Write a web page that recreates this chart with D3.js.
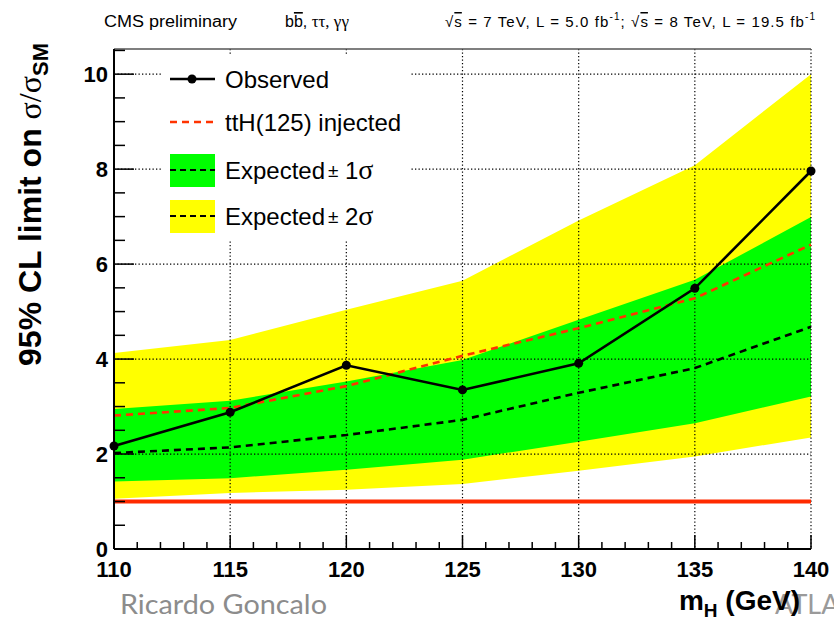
<!DOCTYPE html>
<html>
<head>
<meta charset="utf-8">
<script src="https://cdn.jsdelivr.net/npm/d3@7/dist/d3.min.js"></script>
<style>
  html, body { margin: 0; padding: 0; background: #fff; }
  svg { display: block; }
</style>
</head>
<body>
<svg id="chart" width="834" height="620"></svg>
<script>
// Higgs mass points (GeV)
const mass = [110, 115, 120, 125, 130, 135, 140];
// 95% CL upper limits on sigma/sigma_SM
const observed = [2.17, 2.88, 3.87, 3.35, 3.91, 5.49, 7.96];
const expected = [2.02, 2.14, 2.40, 2.72, 3.29, 3.81, 4.68];
const injected = [2.81, 2.97, 3.43, 4.07, 4.65, 5.28, 6.41];
const band1Lo = [1.42, 1.49, 1.67, 1.88, 2.26, 2.65, 3.21];
const band1Hi = [2.95, 3.12, 3.53, 3.98, 4.83, 5.67, 6.99];
const band2Lo = [1.06, 1.18, 1.25, 1.37, 1.65, 1.95, 2.35];
const band2Hi = [4.13, 4.40, 5.04, 5.65, 6.92, 8.08, 10.0];
const smLine = 1;

const xTicks = [110, 115, 120, 125, 130, 135, 140];
const yTicks = [0, 2, 4, 6, 8, 10];

const svg = d3.select("#chart");
const sans = "'Liberation Sans', Arial, Helvetica, sans-serif";
const serif = "'Liberation Serif', 'Times New Roman', serif";

const x = d3.scaleLinear().domain([110, 140]).range([114, 811]);
const y = d3.scaleLinear().domain([0, 10.53]).range([549, 49]);

const pts = arr => mass.map((m, i) => [m, arr[i]]);
const line = d3.line().x(d => x(d[0])).y(d => y(d[1]));
const band = (lo, hi) => d3.area()
  .x((d, i) => x(mass[i]))
  .y0((d, i) => y(lo[i]))
  .y1((d, i) => y(hi[i]))(mass);

// uncertainty bands
svg.append("path").attr("d", band(band2Lo, band2Hi)).attr("fill", "#ffff00");
svg.append("path").attr("d", band(band1Lo, band1Hi)).attr("fill", "#00ff00");

// dotted grid
const grid = svg.append("g").attr("stroke", "#000").attr("stroke-width", 1.2)
  .attr("stroke-dasharray", "1.3,2.2");
xTicks.filter(v => v > 110).forEach(v => {
  grid.append("line").attr("x1", x(v)).attr("x2", x(v)).attr("y1", y(10.53)).attr("y2", y(0));
});
yTicks.filter(v => v > 0).forEach(v => {
  grid.append("line").attr("x1", x(110)).attr("x2", x(140)).attr("y1", y(v)).attr("y2", y(v));
});

// SM reference line
svg.append("line").attr("x1", x(110)).attr("x2", x(140))
  .attr("y1", y(smLine)).attr("y2", y(smLine))
  .attr("stroke", "#ff2a00").attr("stroke-width", 4.2);

// expected and injected curves
svg.append("path").attr("d", line(pts(expected))).attr("fill", "none")
  .attr("stroke", "#000").attr("stroke-width", 2.6).attr("stroke-dasharray", "7,5");
svg.append("path").attr("d", line(pts(injected))).attr("fill", "none")
  .attr("stroke", "#ff3300").attr("stroke-width", 2.6).attr("stroke-dasharray", "7,5");

// observed
svg.append("path").attr("d", line(pts(observed))).attr("fill", "none")
  .attr("stroke", "#000").attr("stroke-width", 2.6);
svg.append("g").selectAll("circle").data(pts(observed)).join("circle")
  .attr("cx", d => x(d[0])).attr("cy", d => y(d[1])).attr("r", 4.5).attr("fill", "#000");

// frame top
svg.append("line").attr("x1", x(110)).attr("x2", x(140)).attr("y1", y(10.53)).attr("y2", y(10.53))
  .attr("stroke", "#555").attr("stroke-width", 1.5);

// y axis with inward ticks
const yAxisG = svg.append("g").attr("stroke", "#000");
yAxisG.append("line").attr("x1", x(110)).attr("x2", x(110)).attr("y1", y(10.53)).attr("y2", y(0))
  .attr("stroke-width", 2);
d3.range(0, 10.51, 0.5).forEach(v => {
  const major = Math.abs(v / 2 - Math.round(v / 2)) < 1e-6;
  yAxisG.append("line").attr("x1", x(110)).attr("x2", x(110) + (major ? 20 : 11))
    .attr("y1", y(v)).attr("y2", y(v)).attr("stroke-width", 1.5);
});
svg.append("g").selectAll("text").data(yTicks).join("text")
  .attr("x", 108).attr("y", d => y(d)).attr("dy", "0.36em")
  .attr("text-anchor", "end").attr("font-family", sans).attr("font-weight", "bold")
  .attr("font-size", 22).text(d => d);

// x axis with inward ticks
const xAxisG = svg.append("g").attr("stroke", "#000");
xAxisG.append("line").attr("x1", x(110)).attr("x2", x(140)).attr("y1", y(0)).attr("y2", y(0))
  .attr("stroke-width", 2);
d3.range(110, 140.01, 1).forEach(v => {
  const major = v % 5 === 0;
  xAxisG.append("line").attr("x1", x(v)).attr("x2", x(v))
    .attr("y1", y(0)).attr("y2", y(0) - (major ? 14 : 7)).attr("stroke-width", 1.5);
});
svg.append("g").selectAll("text").data(xTicks).join("text")
  .attr("x", d => x(d)).attr("y", 577)
  .attr("text-anchor", "middle").attr("font-family", sans).attr("font-weight", "bold")
  .attr("font-size", 22).text(d => d);

// legend
svg.append("rect").attr("x", 163).attr("y", 56).attr("width", 247).attr("height", 184).attr("fill", "#fff");
const lg = svg.append("g");
const legY = [79, 122, 170, 216];
lg.append("line").attr("x1", 170).attr("x2", 215).attr("y1", legY[0]).attr("y2", legY[0])
  .attr("stroke", "#000").attr("stroke-width", 2.6);
lg.append("circle").attr("cx", 192).attr("cy", legY[0]).attr("r", 4.5).attr("fill", "#000");
lg.append("line").attr("x1", 170).attr("x2", 215).attr("y1", legY[1]).attr("y2", legY[1])
  .attr("stroke", "#ff3300").attr("stroke-width", 2.6).attr("stroke-dasharray", "7,5");
lg.append("rect").attr("x", 170).attr("y", 154).attr("width", 45).attr("height", 33).attr("fill", "#00ff00");
lg.append("line").attr("x1", 170).attr("x2", 215).attr("y1", legY[2]).attr("y2", legY[2])
  .attr("stroke", "#000").attr("stroke-width", 2).attr("stroke-dasharray", "6,4");
lg.append("rect").attr("x", 170).attr("y", 200).attr("width", 45).attr("height", 33).attr("fill", "#ffff00");
lg.append("line").attr("x1", 170).attr("x2", 215).attr("y1", legY[3]).attr("y2", legY[3])
  .attr("stroke", "#000").attr("stroke-width", 2).attr("stroke-dasharray", "6,4");

const legText = (i) => lg.append("text").attr("x", 225).attr("y", legY[i]).attr("dy", "0.36em")
  .attr("font-family", sans).attr("font-size", 24).attr("fill", "#000");
legText(0).text("Observed");
legText(1).text("ttH(125) injected");
[["1", 2], ["2", 3]].forEach(([n, i]) => {
  legText(i).text("Expected");
  lg.append("text").attr("x", 328).attr("y", legY[i]).attr("dy", "0.36em")
    .attr("font-family", sans).attr("font-size", 19).text("±");
  const t = lg.append("text").attr("x", 345).attr("y", legY[i]).attr("dy", "0.36em")
    .attr("font-family", sans).attr("font-size", 24);
  t.append("tspan").text(n);
  t.append("tspan").attr("font-family", serif).attr("font-size", 28).text("σ");
});

// header
svg.append("text").attr("x", 104).attr("y", 27).attr("font-family", sans).attr("font-size", 16)
  .attr("textLength", 133).attr("lengthAdjust", "spacingAndGlyphs").text("CMS preliminary");
{
  const t = svg.append("text").attr("x", 285).attr("y", 27).attr("font-family", sans).attr("font-size", 16);
  t.append("tspan").text("b");
  t.append("tspan").attr("text-decoration", "overline").text("b");
  t.append("tspan").text(", ");
  t.append("tspan").attr("font-family", serif).attr("font-size", 17).text("ττ, γγ");
}
{
  const t = svg.append("text").attr("x", 445).attr("y", 27).attr("font-family", sans).attr("font-size", 15)
    .attr("textLength", 370).attr("lengthAdjust", "spacing");
  t.append("tspan").text("√");
  t.append("tspan").attr("text-decoration", "overline").text("s");
  t.append("tspan").text(" = 7 TeV, L = 5.0 fb");
  t.append("tspan").attr("font-size", 10).attr("dy", -7).text("-1");
  t.append("tspan").attr("dy", 7).text("; √");
  t.append("tspan").attr("text-decoration", "overline").text("s");
  t.append("tspan").text(" = 8 TeV, L = 19.5 fb");
  t.append("tspan").attr("font-size", 10).attr("dy", -7).text("-1");
}

// y-axis title
{
  const t = svg.append("text").attr("transform", "translate(41,43) rotate(-90)")
    .attr("text-anchor", "end").attr("font-family", sans).attr("font-weight", "bold").attr("font-size", 32);
  t.append("tspan").text("95% CL limit on ");
  t.append("tspan").attr("font-family", serif).attr("font-weight", "normal").text("σ/σ");
  t.append("tspan").attr("font-size", 22).attr("dy", 7).text("SM");
}

// footer
svg.append("text").attr("x", 775).attr("y", 614).attr("font-family", "Lato, 'Open Sans', sans-serif")
  .attr("font-size", 27).attr("fill", "#9a9a9a").text("ATLAS");
{
  const t = svg.append("text").attr("x", 800).attr("y", 610).attr("text-anchor", "end")
    .attr("font-family", sans).attr("font-weight", "bold").attr("font-size", 28);
  t.append("tspan").text("m");
  t.append("tspan").attr("font-size", 19).attr("dy", 7).text("H");
  t.append("tspan").attr("dy", -7).text(" (GeV)");
}
svg.append("text").attr("x", 120).attr("y", 614).attr("font-family", "Lato, 'Open Sans', sans-serif")
  .attr("font-size", 27).attr("fill", "#8c8c8c").attr("textLength", 207).attr("lengthAdjust", "spacingAndGlyphs")
  .text("Ricardo Goncalo");
</script>
</body>
</html>
